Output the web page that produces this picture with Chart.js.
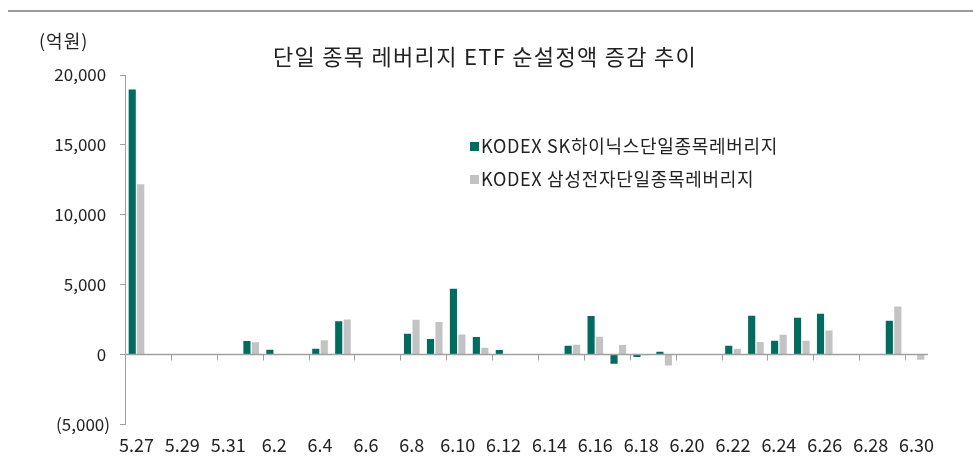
<!DOCTYPE html>
<html>
<head>
<meta charset="utf-8">
<script src="https://cdn.jsdelivr.net/npm/chart.js@4.4.1/dist/chart.umd.min.js"></script>
<style>
html,body{margin:0;padding:0;background:#fff;}
#wrap{width:973px;height:459px;position:relative;}
</style>
</head>
<body>
<div id="wrap"><canvas id="c" width="973" height="459"></canvas></div>
<script>
const categories = ['5.27','5.28','5.29','5.30','5.31','6.1','6.2','6.3','6.4','6.5','6.6','6.7','6.8','6.9','6.10','6.11','6.12','6.13','6.14','6.15','6.16','6.17','6.18','6.19','6.20','6.21','6.22','6.23','6.24','6.25','6.26','6.27','6.28','6.29','6.30'];
const skHynixLev = [18960, 20, 20, 0, 0, 970, 330, 0, 400, 2380, 0, 0, 1480, 1100, 4700, 1240, 310, 0, 0, 620, 2750, -670, -190, 190, 0, 0, 620, 2770, 980, 2620, 2910, 0, 0, 2410, -30];
const samsungLev = [12180, 0, 0, 0, 0, 880, 20, 0, 1020, 2500, 0, 0, 2480, 2320, 1430, 480, 0, 0, 0, 690, 1270, 670, -60, -790, 0, 0, 410, 890, 1410, 980, 1720, 0, 0, 3430, -380];
const seriesNames = ['KODEX SK하이닉스단일종목레버리지', 'KODEX 삼성전자단일종목레버리지'];
const yTickValues = [-5000, 0, 5000, 10000, 15000, 20000];
const titleText = '단일 종목 레버리지 ETF 순설정액 증감 추이';
const unitText = '(억원)';

const TEAL = '#006b5f';
const GRAY = '#c3c3c3';
const AXIS = '#a0a0a0';
const FONT = "'Noto Sans CJK KR', 'Noto Sans', sans-serif";

const deco = {
  id: 'deco',
  afterDatasetsDraw(chart) {
    const ctx = chart.ctx;
    const x = chart.scales.x, y = chart.scales.y;
    const ca = chart.chartArea;
    const y0 = Math.round(y.getPixelForValue(0)) + 0.5;
    ctx.save();
    ctx.strokeStyle = AXIS;
    ctx.lineWidth = 1.5;
    ctx.beginPath();
    ctx.moveTo(ca.left, y0);
    ctx.lineTo(ca.right, y0);
    ctx.stroke();
    ctx.lineWidth = 1;
    for (let i = 2; i < categories.length; i += 2) {
      const xb = Math.round((x.getPixelForValue(i - 1) + x.getPixelForValue(i)) / 2) + 0.5;
      ctx.beginPath();
      ctx.moveTo(xb, y0);
      ctx.lineTo(xb, y0 + 6);
      ctx.stroke();
    }
    ctx.restore();
  },
  afterDraw(chart) {
    const ctx = chart.ctx;
    ctx.save();
    ctx.fillStyle = '#999999';
    ctx.fillRect(8, 10, 965, 2);
    ctx.fillStyle = '#222';
    ctx.textBaseline = 'middle';
    // title
    ctx.font = '22px ' + FONT;
    ctx.letterSpacing = '1.3px';
    ctx.textAlign = 'left';
    const tw = ctx.measureText(titleText).width;
    ctx.fillText(titleText, 485 - tw / 2, 57);
    // unit
    ctx.font = '18px ' + FONT;
    ctx.letterSpacing = '1px';
    ctx.fillText(unitText, 39, 41);
    // legend
    const colors = [TEAL, GRAY];
    const rows = [146, 179];
    ctx.font = '18px ' + FONT;
    ctx.letterSpacing = '0.7px';
    for (let i = 0; i < seriesNames.length; i++) {
      ctx.fillStyle = colors[i];
      ctx.fillRect(470, rows[i] - 4, 9, 9);
      ctx.fillStyle = '#222';
      ctx.fillText(seriesNames[i], 481, rows[i]);
    }
    ctx.restore();
  }
};

new Chart(document.getElementById('c'), {
  type: 'bar',
  data: {
    labels: categories,
    datasets: [
      { label: seriesNames[0], data: skHynixLev, backgroundColor: TEAL, categoryPercentage: 0.74, barPercentage: 0.84 },
      { label: seriesNames[1], data: samsungLev, backgroundColor: GRAY, categoryPercentage: 0.74, barPercentage: 0.84 }
    ]
  },
  options: {
    responsive: false,
    animation: false,
    layout: { padding: { top: 75, right: 45, left: 0, bottom: 0 } },
    plugins: { legend: { display: false }, title: { display: false }, tooltip: { enabled: false } },
    scales: {
      x: {
        grid: { display: false, drawTicks: false },
        border: { display: false },
        ticks: {
          autoSkip: false, maxRotation: 0, minRotation: 0, padding: 10,
          color: '#222', font: { family: FONT, size: 18 },
          callback: (v, i) => (i % 2 === 0 ? categories[i] : '')
        },
        afterFit(s) { s.height = 34.7; }
      },
      y: {
        min: -5000, max: 20000,
        afterBuildTicks(s) { s.ticks = yTickValues.map(v => ({ value: v })); },
        grid: { drawOnChartArea: false, drawTicks: true, tickLength: 5, color: AXIS },
        border: { display: true, color: AXIS, width: 1 },
        ticks: {
          padding: 10, color: '#222', font: { family: FONT, size: 17 },
          callback: v => v < 0 ? '(' + Math.abs(v).toLocaleString('en-US') + ')' : v.toLocaleString('en-US') + ' '
        },
        afterFit(s) { s.width = 125; }
      }
    }
  },
  plugins: [deco]
});
</script>
</body>
</html>
